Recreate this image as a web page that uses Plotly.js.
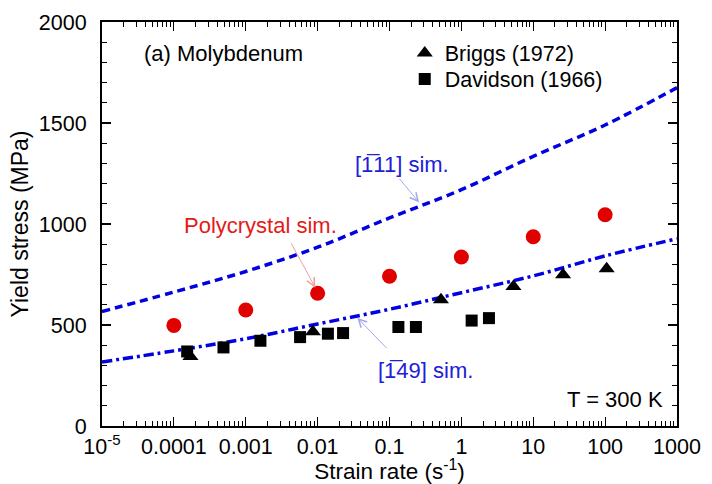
<!DOCTYPE html>
<html>
<head>
<meta charset="utf-8">
<script src="https://cdn.plot.ly/plotly-3.0.1.min.js"></script>
<style>html,body{margin:0;padding:0;background:#fff;}#chart{width:712px;height:484px;}</style>
</head>
<body>
<div id="chart"></div>
<script>
// ---- data ----
const simRate = [1e-5, 1e-4, 1e-3, 1e-2, 1e-1, 1, 10, 100, 1000];
const sim111 = [567, 663, 765, 885, 1030, 1170, 1335, 1490, 1675];
const sim149 = [317, 372, 432, 505, 578, 660, 743, 842, 927];

const polyRate = [1e-4, 1e-3, 1e-2, 1e-1, 1, 10, 100];
const polyStress = [498, 574, 657, 741, 837, 937, 1046];

const briggsRate = [1.7e-4, 8.6e-3, 0.52, 5.3, 26, 105];
const briggsStress = [344, 466, 625, 691, 749, 778];

const davidsonRate = [1.53e-4, 4.9e-4, 1.6e-3, 5.7e-3, 0.0139, 0.0226, 0.133, 0.233, 1.39, 2.42];
const davidsonStress = [369, 389, 422, 440, 457, 460, 490, 490, 522, 534];

const xTickVals = [1e-5, 1e-4, 1e-3, 1e-2, 1e-1, 1, 10, 100, 1000];
const xTickText = ['10<sup>-5</sup>', '0.0001', '0.001', '0.01', '0.1', '1', '10', '100', '1000'];
const yTickVals = [0, 500, 1000, 1500, 2000];

const FONT = 'Liberation Sans, Arial, Helvetica, sans-serif';
const BLUE = '#0000e0';

const traces = [
  {x: simRate, y: sim111, mode: 'lines', line: {color: BLUE, width: 3.5, dash: '8px,5px', shape: 'spline'}, showlegend: false, hoverinfo: 'skip'},
  {x: simRate, y: sim149, mode: 'lines', line: {color: BLUE, width: 3.5, dash: '10px,4px,3px,4px', shape: 'spline'}, showlegend: false, hoverinfo: 'skip'},
  {x: polyRate, y: polyStress, mode: 'markers', marker: {symbol: 'circle', size: 15, color: '#e00000'}, showlegend: false},
  {x: briggsRate, y: briggsStress, mode: 'markers', name: 'Briggs (1972)', legend: 'legend', marker: {symbol: 'triangle-up', size: 14, color: '#000'}},
  {x: davidsonRate, y: davidsonStress, mode: 'markers', name: 'Davidson (1966)', legend: 'legend2', marker: {symbol: 'square', size: 12, color: '#000'}}
];

// helpers to convert pixel layout positions into paper coords
const L = 101.5, R = 677, T = 22, B = 426;
const px = v => (v - L) / (R - L);
const py = v => (B - v) / (B - T);

const legendFont = {family: FONT, size: 21.5, color: '#000'};

const layout = {
  width: 712, height: 484,
  margin: {l: L, r: 712 - R, t: T, b: 484 - B, pad: 0},
  paper_bgcolor: '#fff', plot_bgcolor: '#fff',
  font: {family: FONT, size: 21, color: '#000'},
  showlegend: true,
  legend: {x: px(404.5), y: py(32.5), xanchor: 'left', yanchor: 'top', bgcolor: 'rgba(0,0,0,0)', font: legendFont},
  legend2: {x: px(404.5), y: py(58.5), xanchor: 'left', yanchor: 'top', bgcolor: 'rgba(0,0,0,0)', font: legendFont},
  xaxis: {
    type: 'log', range: [-5, 3],
    tickmode: 'array', tickvals: xTickVals, ticktext: xTickText,
    ticks: 'inside', ticklen: 9, tickwidth: 1.2, tickcolor: '#000',
    showline: true, linewidth: 2, linecolor: '#000', mirror: 'allticks',
    showgrid: false, zeroline: false,
    tickfont: {family: FONT, size: 21.5, color: '#000'},
    minor: {ticks: 'inside', ticklen: 5, tickwidth: 1, tickcolor: '#000', dtick: 'D1', showgrid: false},
    title: {text: 'Strain rate (s<sup>-1</sup>)', font: {family: FONT, size: 22.5, color: '#000'}, standoff: 4}
  },
  yaxis: {
    range: [0, 2000], tickmode: 'array', tickvals: yTickVals,
    ticks: 'inside', ticklen: 9, tickwidth: 1.2, tickcolor: '#000',
    showline: true, linewidth: 2, linecolor: '#000', mirror: 'allticks',
    showgrid: false, zeroline: false, ticklabelstandoff: 9,
    tickfont: {family: FONT, size: 21.5, color: '#000'},
    minor: {ticks: 'inside', ticklen: 5, tickwidth: 1, tickcolor: '#000', dtick: 100, showgrid: false},
    title: {text: 'Yield stress (MPa)', font: {family: FONT, size: 23, color: '#000'}, standoff: 4}
  },
  annotations: [
    {xref: 'paper', yref: 'paper', x: px(223), y: py(54), xanchor: 'center', yanchor: 'middle', showarrow: false, text: '(a) Molybdenum', font: {family: FONT, size: 22, color: '#000'}},
    {xref: 'paper', yref: 'paper', x: px(615), y: py(399), xanchor: 'center', yanchor: 'middle', showarrow: false, text: 'T = 300 K', font: {family: FONT, size: 22, color: '#000'}},
    {xref: 'paper', yref: 'paper', x: px(402), y: py(164), xanchor: 'center', yanchor: 'middle', showarrow: false, text: '[1\u030511] sim.', font: {family: FONT, size: 22, color: '#2020d8'}},
    {xref: 'paper', yref: 'paper', x: px(260), y: py(225), xanchor: 'center', yanchor: 'middle', showarrow: false, text: 'Polycrystal sim.', font: {family: FONT, size: 22, color: '#e31a1a'}},
    {xref: 'paper', yref: 'paper', x: px(425), y: py(370), xanchor: 'center', yanchor: 'middle', showarrow: false, text: '[1\u030549] sim.', font: {family: FONT, size: 22, color: '#2020d8'}},
    // arrows (head in data coordinates, x in log10 units)
    {xref: 'x', yref: 'y', x: -0.587, y: 1107, ax: -21, ay: -25, text: '', showarrow: true, arrowhead: 5, arrowsize: 1.6, arrowwidth: 1, arrowcolor: '#a8a8f0'},
    {xref: 'x', yref: 'y', x: -2.032, y: 685, ax: -25, ay: -46, text: '', showarrow: true, arrowhead: 5, arrowsize: 1.6, arrowwidth: 1, arrowcolor: '#f0a0a0'},
    {xref: 'x', yref: 'y', x: -1.449, y: 536, ax: 31, ay: 32, text: '', showarrow: true, arrowhead: 5, arrowsize: 1.6, arrowwidth: 1, arrowcolor: '#a8a8f0'}
  ]
};

Plotly.newPlot('chart', traces, layout, {staticPlot: true, displayModeBar: false});
</script>
</body>
</html>
